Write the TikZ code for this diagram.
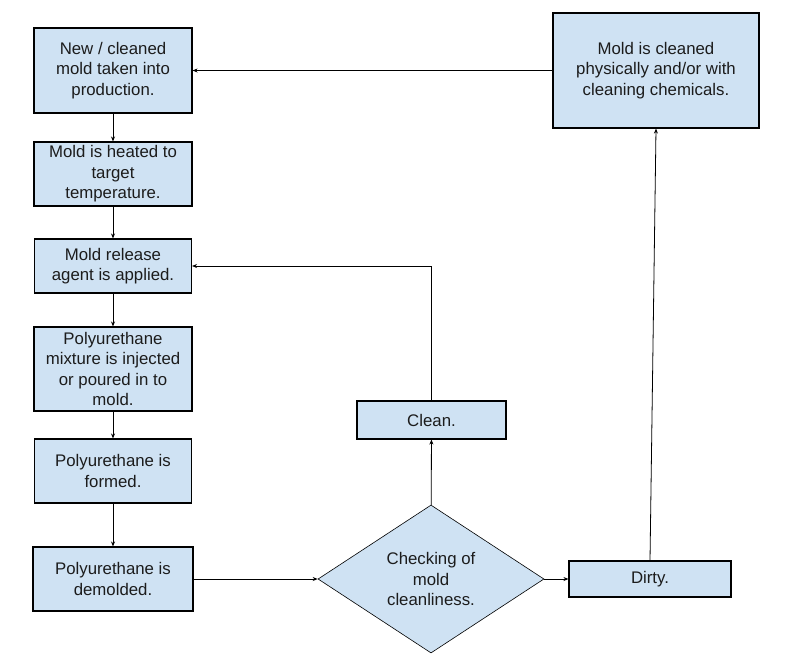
\documentclass[tikz,border=0pt]{standalone}
\usepackage{fontspec}
\setmainfont{Liberation Sans}
\usepackage{tikz}
\usetikzlibrary{arrows.meta,shapes.geometric}
\definecolor{boxfill}{RGB}{207,226,243}
\definecolor{boxtext}{RGB}{28,28,28}

\begin{document}
\begin{tikzpicture}[x=1pt,y=-1pt,
    box/.style={draw=black,line width=1.1pt,fill=boxfill,text=boxtext,align=center,
      inner sep=0pt,font=\fontsize{16.8}{20.5}\selectfont},
    check/.style={diamond,draw=black,line width=0.6pt,fill=boxfill,text=boxtext,align=center,
      inner sep=0pt,aspect=1.5,font=\fontsize{16.8}{20.5}\selectfont},
    flow/.style={draw=black,line width=0.8pt,-{Stealth[length=5pt,width=4pt]}}]
    \useasboundingbox[fill=white] (0,0) rectangle (794,662);
    % left column
    \node[box,minimum width=158pt,minimum height=85pt] (newmold) at (113,70.5) {New / cleaned\\mold taken into\\production.};
    \node[box,minimum width=158pt,minimum height=64pt] (heat) at (113,174) {Mold is heated to\\target\\temperature.};
    \node[box,minimum width=157pt,minimum height=54pt] (release) at (113,266) {Mold release\\agent is applied.};
    \node[box,minimum width=158pt,minimum height=84pt] (inject) at (113,369) {Polyurethane\\mixture is injected\\or poured in to\\mold.};
    \node[box,minimum width=157pt,minimum height=64pt] (formed) at (113,471) {Polyurethane is\\formed.};
    \node[box,minimum width=160pt,minimum height=64pt] (demold) at (113,579) {Polyurethane is\\demolded.};
    % check and its outcomes
    \node[check,minimum width=226pt,minimum height=148pt] (check) at (431,579) {Checking of\\mold\\cleanliness.};
    \node[box,minimum width=149pt,minimum height=38pt] (clean) at (431.5,420) {Clean.};
    \node[box,minimum width=162pt,minimum height=36pt] (dirty) at (650,579) {Dirty.};
    \node[box,minimum width=206pt,minimum height=115pt] (cleaning) at (656,70.5) {Mold is cleaned\\physically and/or with\\cleaning chemicals.};

    \draw[flow] (newmold) -- (heat);
    \draw[flow] (heat) -- (release);
    \draw[flow] (release) -- (inject);
    \draw[flow] (inject) -- (formed);
    \draw[flow] (formed) -- (demold);
    \draw[flow] (demold) -- (check);
    \draw[flow] (check) -- (dirty);
    \draw[flow] (check) -- (clean);
    \draw[flow] (clean.north) |- (release.east);
    \draw[flow] (dirty.north) -- (cleaning.south);
    \draw[flow] (cleaning) -- (newmold);
\end{tikzpicture}
\end{document}
